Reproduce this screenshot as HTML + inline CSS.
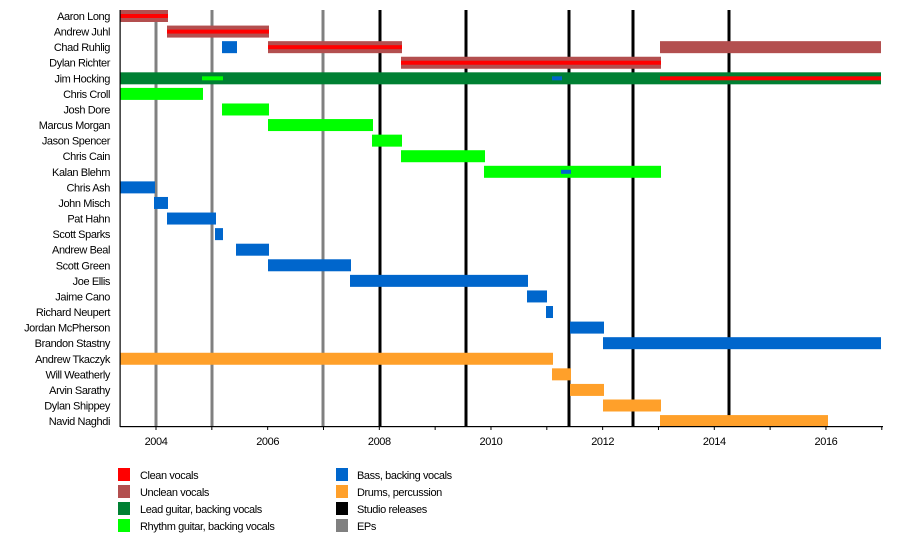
<!DOCTYPE html>
<html><head><meta charset="utf-8"><style>
html,body{margin:0;padding:0;background:#fff;}
svg text{font-family:"Liberation Sans",Arial,sans-serif;font-size:11px;fill:#000;letter-spacing:-0.4px;}
</style></head><body>
<svg width="900" height="546" viewBox="0 0 900 546" xmlns="http://www.w3.org/2000/svg">
<g id="bars"></g>
<script>
(function(){
var s=document.querySelector('svg'),NS='http://www.w3.org/2000/svg';
function el(t,a,txt){var e=document.createElementNS(NS,t);for(var k in a)e.setAttribute(k,a[k]);if(txt)e.textContent=txt;s.appendChild(e);return e;}
var R='#ff0000',U='#b34f4f',LG='#008033',RG='#00ff00',B='#0066cc',D='#ffa02a';
var names=["Aaron Long","Andrew Juhl","Chad Ruhlig","Dylan Richter","Jim Hocking","Chris Croll","Josh Dore","Marcus Morgan","Jason Spencer","Chris Cain","Kalan Blehm","Chris Ash","John Misch","Pat Hahn","Scott Sparks","Andrew Beal","Scott Green","Joe Ellis","Jaime Cano","Richard Neupert","Jordan McPherson","Brandon Stastny","Andrew Tkaczyk","Will Weatherly","Arvin Sarathy","Dylan Shippey","Navid Naghdi"];
function cy(i){return 16+i*15.58;}
names.forEach(function(n,i){el('text',{x:110,y:cy(i)+4,'text-anchor':'end'},n);});
// full bars [row,x1,x2,color]
var bars=[[0,120,168,U],[1,167,269,U],[2,222,237,B],[2,268,402,U],[2,660,881,U],[3,401,661,U],[4,120,881,LG],
[5,120,203,RG],[6,222,269,RG],[7,268,373,RG],[8,372,402,RG],[9,401,485,RG],[10,484,661,RG],
[11,120,155,B],[12,154,168,B],[13,167,216,B],[14,215,223,B],[15,236,269,B],[16,268,351,B],[17,350,528,B],[18,527,547,B],[19,546,553,B],[20,570,604,B],[21,603,881,B],
[22,120,553,D],[23,552,571,D],[24,570,604,D],[25,603,661,D],[26,660,828,D]];
// stripes
var str=[[0,120,168,R],[1,167,269,R],[2,268,402,R],[3,401,661,R],[4,202,223,RG],[4,552,562,B],[4,660,881,R],[10,561,571,B]];
// vertical lines drawn first
[[156,'#808080'],[212,'#808080'],[323,'#808080'],[380,'#000'],[466,'#000'],[569,'#000'],[633,'#000'],[729,'#000']].forEach(function(v){
 el('rect',{x:v[0]-1.5,y:10,width:3,height:417,fill:v[1]});});
bars.forEach(function(b){el('rect',{x:b[1],y:cy(b[0])-6,width:b[2]-b[1],height:12,fill:b[3]});});
str.forEach(function(b){el('rect',{x:b[1],y:cy(b[0])-2,width:b[2]-b[1],height:4,fill:b[3]});});
// axes
el('rect',{x:119.5,y:10,width:1.2,height:417,fill:'#000'});
el('rect',{x:120,y:426,width:763,height:1.2,fill:'#000'});
for(var y=2004;y<=2017;y++){var x=156+(y-2004)*55.83;el('rect',{x:x-0.5,y:426,width:1,height:4,fill:'#000'});
 if(y%2==0)el('text',{x:x,y:445,'text-anchor':'middle'},String(y));}
// legend
var L=[[118,140,R,'Clean vocals'],[118,140,U,'Unclean vocals'],[118,140,LG,'Lead guitar, backing vocals'],[118,140,RG,'Rhythm guitar, backing vocals'],
[336,357,B,'Bass, backing vocals'],[336,357,D,'Drums, percussion'],[336,357,'#000','Studio releases'],[336,357,'#808080','EPs']];
L.forEach(function(l,i){var r=i%4;var yy=468+r*17;el('rect',{x:l[0],y:yy,width:12,height:13,fill:l[2]});el('text',{x:l[1],y:yy+11},l[3]);});
})();
</script>
</svg>
</body></html>
